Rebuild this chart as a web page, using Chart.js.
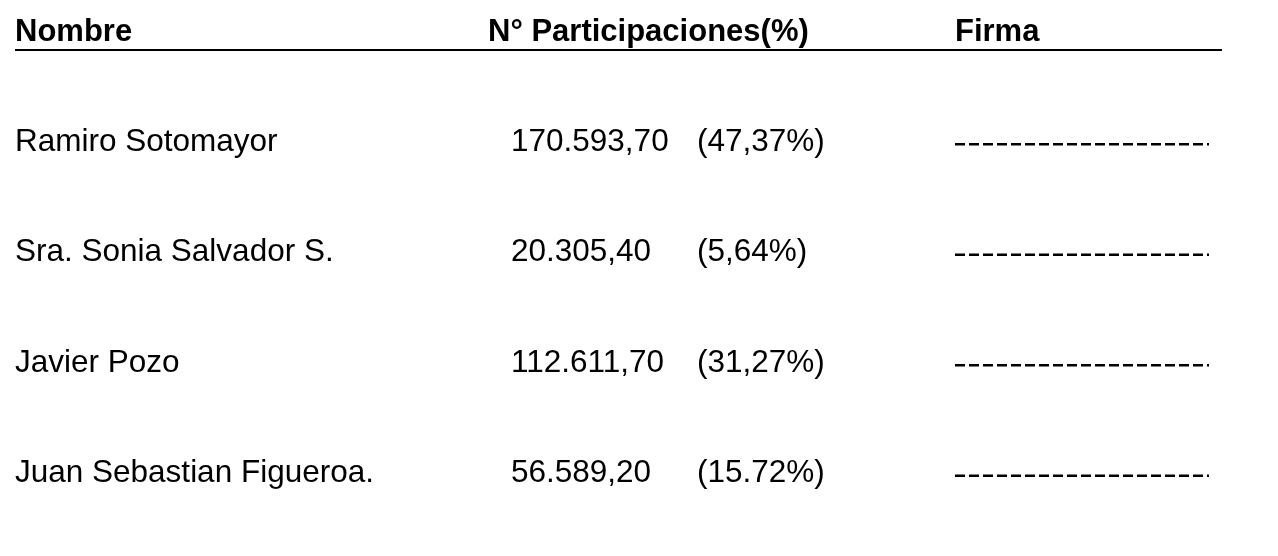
<!DOCTYPE html>
<html>
<head>
<meta charset="utf-8">
<script src="https://cdn.jsdelivr.net/npm/chart.js@4.4.1/dist/chart.umd.min.js"></script>
<style>
html, body { margin: 0; padding: 0; background: #fff; }
</style>
</head>
<body>
<canvas id="myChart" width="1278" height="556"></canvas>
<script>
const encabezados = ['Nombre', 'N° Participaciones(%)', 'Firma'];
const nombres = ['Ramiro Sotomayor', 'Sra. Sonia Salvador S.', 'Javier Pozo', 'Juan Sebastian Figueroa.'];
const participaciones = [170593.70, 20305.40, 112611.70, 56589.20];
const porcentajes = ['(47,37%)', '(5,64%)', '(31,27%)', '(15.72%)'];

const fuente = '"Liberation Sans", Arial, sans-serif';

// 170593.7 -> "170.593,70"
function formatoNum(v) {
    let partes = v.toFixed(2).split('.');
    let entero = partes[0].replace(/\B(?=(\d{3})+(?!\d))/g, '.');
    return entero + ',' + partes[1];
}

const col = {
    monto: 511,
    pct: 697,
    firma: 955,
    finFirma: 1209,
    finLinea: 1222,
    encabezadoY: 32,
    lineaY: 50
};

const tablaPlugin = {
    id: 'tabla',
    afterDraw(chart) {
        const ctx = chart.ctx;
        const izq = chart.scales.y.left;
        ctx.save();
        ctx.fillStyle = '#000';
        ctx.textBaseline = 'middle';
        ctx.textAlign = 'left';

        // encabezado
        ctx.font = 'bold 31px ' + fuente;
        ctx.fillText(encabezados[0], izq, col.encabezadoY);
        ctx.fillText(encabezados[1], 488, col.encabezadoY);
        ctx.fillText(encabezados[2], col.firma, col.encabezadoY);

        ctx.strokeStyle = '#000';
        ctx.lineWidth = 2;
        ctx.beginPath();
        ctx.moveTo(izq, col.lineaY);
        ctx.lineTo(col.finLinea, col.lineaY);
        ctx.stroke();

        // filas: monto, porcentaje y linea de firma
        const meta = chart.getDatasetMeta(0);
        ctx.font = '31.5px ' + fuente;
        meta.data.forEach((el, i) => {
            const y = el.y;
            ctx.fillText(formatoNum(chart.data.datasets[0].data[i]), col.monto, y);
            ctx.fillText(porcentajes[i], col.pct, y);

            ctx.lineWidth = 2.5;
            ctx.setLineDash([10, 4]);
            ctx.beginPath();
            ctx.moveTo(col.firma, y + 2);
            ctx.lineTo(col.finFirma, y + 2);
            ctx.stroke();
            ctx.setLineDash([]);
        });
        ctx.restore();
    }
};

const datos = {
    labels: nombres,
    datasets: [{
        label: 'Participaciones',
        data: participaciones,
        backgroundColor: 'rgba(0,0,0,0)',
        borderWidth: 0
    }]
};

const conf = {
    type: 'bar',
    data: datos,
    options: {
        indexAxis: 'y',
        responsive: false,
        animation: false,
        layout: {
            padding: { left: 15, top: 87, bottom: 27, right: 0 }
        },
        plugins: {
            legend: { display: false },
            tooltip: { enabled: false }
        },
        scales: {
            y: {
                type: 'category',
                position: 'left',
                grid: { display: false },
                border: { display: false },
                ticks: {
                    crossAlign: 'far',
                    padding: 0,
                    color: '#000',
                    font: { family: fuente, size: 31.5 }
                }
            },
            x: {
                display: false,
                min: 0,
                max: 200000
            }
        }
    },
    plugins: [tablaPlugin]
};

const ctx = document.getElementById('myChart').getContext('2d');
const chart = new Chart(ctx, conf);
</script>
</body>
</html>
